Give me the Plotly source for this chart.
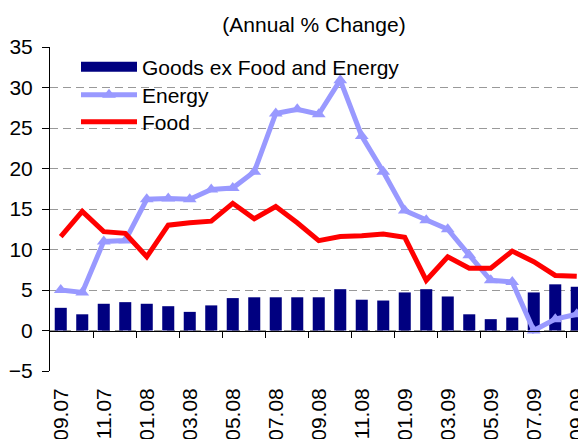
import plotly.graph_objects as go

categories = ["09.07", "10.07", "11.07", "12.07", "01.08", "02.08", "03.08", "04.08",
              "05.08", "06.08", "07.08", "08.08", "09.08", "10.08", "11.08", "12.08",
              "01.09", "02.09", "03.09", "04.09", "05.09", "06.09", "07.09", "08.09", "09.09"]

goods = [2.8, 2.0, 3.3, 3.5, 3.3, 3.0, 2.3, 3.1, 4.0, 4.1, 4.1, 4.1, 4.1,
         5.1, 3.8, 3.7, 4.7, 5.1, 4.2, 2.0, 1.4, 1.6, 4.7, 5.7, 5.4]
energy = [5.0, 4.7, 11.0, 11.1, 16.2, 16.3, 16.2, 17.4, 17.6, 19.6, 26.8, 27.3, 26.7,
          30.9, 24.0, 19.6, 14.8, 13.6, 12.5, 9.3, 6.2, 6.0, 0.0, 1.4, 2.0]
food = [11.6, 14.7, 12.2, 12.0, 9.1, 13.0, 13.3, 13.5, 15.7, 13.8, 15.3, 13.3, 11.1,
        11.6, 11.7, 11.9, 11.5, 6.2, 9.1, 7.7, 7.7, 9.8, 8.5, 6.8, 6.7]

y_ticks = [-5, 0, 5, 10, 15, 20, 25, 30, 35]
x_labels = categories[::2]
boundaries = [i + 0.5 for i in range(1, len(categories) - 1, 2)]

FONT = "Liberation Sans, Arial, sans-serif"
fs = 21
NAVY, BLUE, RED = "#000080", "#9999FF", "#FF0000"

# page body has an 8px margin: figure coords = screen coords - 8
OFF = 8
FW, FH = 586 - OFF, 439 - OFF
L, T, W, H = 50 - OFF, 47 - OFF, 536, 324


def py(p):
    return 1 - (p - OFF - T) / H


def px(p):
    return (p - OFF - L) / W


fig = go.Figure()
fig.add_trace(go.Bar(x=categories, y=goods, name="Goods ex Food and Energy",
                     marker=dict(color=NAVY, line=dict(width=0)), showlegend=False))
# legend entry for the bars (wide block symbol) - carries no data
fig.add_trace(go.Scatter(x=[None], y=[None], xaxis="x2", name="Goods ex Food and Energy",
                         mode="lines", line=dict(color=NAVY, width=13), legend="legend"))
fig.add_trace(go.Scatter(x=categories, y=energy, name="Energy", mode="lines+markers",
                         line=dict(color=BLUE, width=5),
                         marker=dict(symbol="triangle-up", size=12, color=BLUE),
                         legend="legend2"))
fig.add_trace(go.Scatter(x=categories, y=food, name="Food", mode="lines",
                         line=dict(color=RED, width=5), legend="legend3"))

xr = [-0.5, 24.43]
leg = dict(x=px(76), xanchor="left", yanchor="middle", bgcolor="rgba(0,0,0,0)",
           itemwidth=56, font=dict(family=FONT, size=fs, color="black"))

fig.update_layout(
    width=FW, height=FH,
    margin=dict(l=L, r=FW - L - W, t=T, b=FH - T - H, autoexpand=False),
    paper_bgcolor="white", plot_bgcolor="white",
    font=dict(family=FONT, size=fs, color="black"),
    bargap=0.44,
    title=dict(text="(Annual % Change)", x=px(314), xref="paper", xanchor="center",
               y=1 - (25 - OFF) / FH, yref="container", yanchor="middle",
               font=dict(family=FONT, size=fs, color="black")),
    xaxis=dict(type="category", range=xr, tickmode="array", tickvals=x_labels,
               ticktext=x_labels, tickangle=-90, ticks="", showline=False,
               showgrid=False, zeroline=False, ticklabelstandoff=12, automargin=False,
               tickfont=dict(family=FONT, size=fs, color="black")),
    xaxis2=dict(type="linear", range=xr, overlaying="x", anchor="free", position=0.125,
                side="bottom", showline=True, linecolor="black", linewidth=1,
                ticks="outside", ticklen=6, tickcolor="black", tickmode="array",
                tickvals=boundaries, showticklabels=False, showgrid=False,
                zeroline=False, automargin=False),
    yaxis=dict(range=[-5, 35], tickmode="array", tickvals=y_ticks,
               showgrid=True, gridcolor="#999999", griddash="8px,5px", gridwidth=1,
               zeroline=False, showline=True, linecolor="black", linewidth=1,
               ticks="outside", ticklen=7, tickcolor="black", ticklabelstandoff=5,
               automargin=False,
               tickfont=dict(family=FONT, size=fs, color="black")),
    legend=dict(leg, y=py(67)),
    legend2=dict(leg, y=py(95)),
    legend3=dict(leg, y=py(122)),
    shapes=[dict(type="rect", xref="paper", yref="paper", layer="between",
                 x0=0.002, x1=px(418), y0=py(145), y1=py(50),
                 fillcolor="white", line=dict(width=0))],
)

fig.write_html("out.html")
